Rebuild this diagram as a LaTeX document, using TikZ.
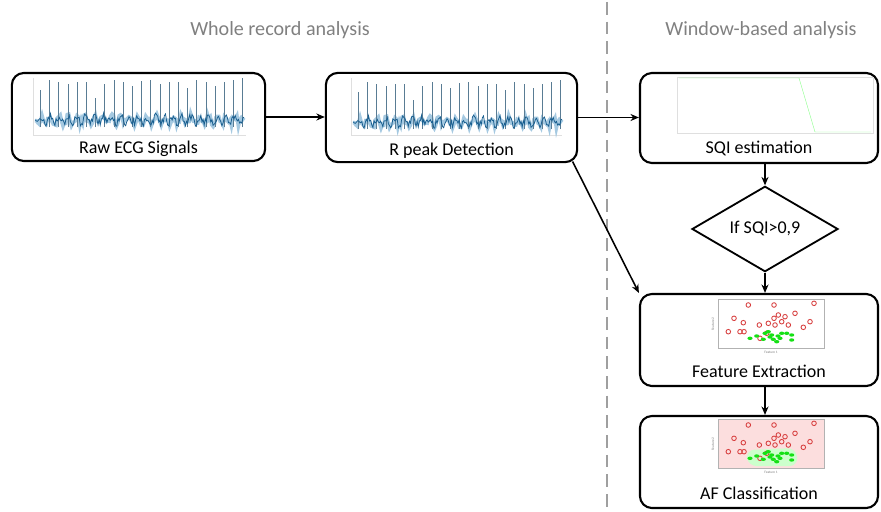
\documentclass[tikz,border=0pt]{standalone}
\usepackage{fontspec}
\setmainfont{Carlito}
\usetikzlibrary{shapes.geometric,arrows.meta,calc}
\definecolor{ecgblue}{RGB}{31,119,180}
\definecolor{ptred}{RGB}{215,60,60}
\definecolor{ptgreen}{RGB}{20,225,20}
\definecolor{afpink}{RGB}{252,222,222}
\tikzset{
  headtxt/.style={text=gray,font=\fontsize{14.3}{16}\selectfont},
  box/.style={draw,line width=1.5pt,rounded corners=8.5pt,minimum width=#1},
  boxcap/.style={font=\fontsize{12.8}{14}\selectfont},
  dia/.style={diamond,draw,line width=1.3pt,minimum width=3.65cm,minimum height=1.75cm,
    inner sep=0pt,font=\fontsize{12.8}{14}\selectfont},
  arr/.style={line width=1.1pt,-{Stealth[length=6pt,width=5pt]}},
  divider/.style={gray!75,line width=1.6pt,dash pattern=on 9pt off 5pt},
  plotframe/.style={draw=gray!25,line width=.3pt},
}
% ecg trace, x 35..243 px
\newcommand{\ecgtrace}{%
  \pgfmathsetmacro{\dummy}{0}
  \pgfmathsetseed{7}
  \draw[ecgblue!40,line width=2.6pt] plot[domain=35:244,samples=150] (\x,{120+3*sin(\x*41)+3.5*rand});
  \foreach \s/\t in {40/90,49/80,58/82,68/84,77/82,86/82,95/98,104/84,114/80,123/82,132/86,141/81,
    150/80,160/84,169/82,178/82,187/88,196/80,206/82,215/86,224/82,233/80,242/78}{
    \draw[ecgblue!40!gray,line width=.45pt] (\s,127)--(\s,\t);
  }
  \pgfmathsetseed{11}
  \draw[ecgblue!80!black,line width=.55pt] plot[domain=35:244,samples=190] (\x,{120+3*sin(\x*41)+4*rand});
}
% scatter points, relative to plot corner
\newcommand{\featpts}{%
  \foreach \px/\py in {30.3/6,56/6,96/4.3,16/19.3,25.3/23.7,41.3/26,50.3/24.3,56/19.3,60.3/16,67/17.7,
    63.7/22.7,57/26,70.3/26,77/14.3,92/22.7,85.3/28.3,10.3/32.7,22/32.7,26/32.7,42/39.3,48.7/34.3}{
    \draw[ptred,line width=.6pt] (\px,\py) circle (2.3);
  }
  \foreach \px/\py in {32/39.3,38.7/37,47/34.3,50.3/32.7,53.7/36,55.3/40.3,58.7/42.7,62/39.3,68.7/34.3,
    73.7/36,73.7/41,63.7/34.3,45.3/40.3,60/37,52/38}{
    \fill[ptgreen] (\px,\py) ellipse (2.6 and 1.7);
  }
  \node[font=\fontsize{2.5}{3}\selectfont,text=gray] (fx) at (53,53) {Feature 1};
  \node[font=\fontsize{2.5}{3}\selectfont,text=gray,rotate=90] (fy) at (-5,25) {Feature 2};
}

\begin{document}
\begin{tikzpicture}[x=0.025cm,y=-0.025cm]
  \useasboundingbox (0,0) rectangle (881,512);

  \node[headtxt] (whole) at (280,30) {Whole record analysis};
  \node[headtxt] (window) at (761,30) {Window-based analysis};
  \draw[divider] (607,2)--(607,512);

  % boxes
  \node[box=6.33cm,minimum height=2.2cm] (raw) at (138.5,117) {};
  \node[box=6.28cm,minimum height=2.23cm] (rpk) at (451.5,117.5) {};
  \node[box=5.95cm,minimum height=2.25cm] (sqi) at (759,118) {};
  \node[dia] (test) at (765,229) {If SQI>0,9};
  \node[box=5.95cm,minimum height=2.3cm] (feat) at (759,340) {};
  \node[box=5.95cm,minimum height=2.3cm] (afc) at (759,462) {};

  \node[boxcap] (rawcap) at ([yshift=.33cm]raw.south) {Raw ECG Signals};
  \node[boxcap] (rpkcap) at ([yshift=.31cm]rpk.south) {R peak Detection};
  \node[boxcap] (sqicap) at ([yshift=.38cm]sqi.south) {SQI estimation};
  \node[boxcap] (featcap) at ([yshift=.4cm]feat.south) {Feature Extraction};
  \node[boxcap] (afccap) at ([yshift=.4cm]afc.south) {AF Classification};

  % pictures in the boxes
  \begin{scope}
    \draw[gray!25,line width=.3pt] (33,78)--(33,135)--(246,135);
    \ecgtrace
  \end{scope}
  \begin{scope}[shift={(318,2)}]
    \draw[gray!25,line width=.3pt] (33,76)--(33,133)--(244,133);
    \ecgtrace
  \end{scope}
  \draw[plotframe] (677,77) rectangle (873,133);
  \draw[green!45,line width=.3pt] (679,78)--(799,78)--(815,132)--(871,132);
  \begin{scope}[shift={(718,299)}]
    \fill[white] (0,0) rectangle (106,49);
    \draw[gray!60,line width=.6pt] (0,0) rectangle (106,49);
    \featpts
  \end{scope}
  \begin{scope}[shift={(718,419)}]
    \fill[afpink] (0,0) rectangle (106,49);
    \fill[green!20,rounded corners=6pt] (28,31)--(78,29)--(80,47)--(30,47)--cycle;
    \draw[gray!60,line width=.6pt] (0,0) rectangle (106,49);
    \featpts
  \end{scope}

  % connectors
  \coordinate (rpkout) at ([xshift=-.14cm,yshift=.04cm]rpk.south east);
  \draw[arr] (raw.east)--(raw.east-|rpk.west);
  \draw[arr] (rpk.east)--(rpk.east-|sqi.west);
  \draw[arr] (sqi.south-|test.north)--(test.north);
  \draw[arr] (test.south)--(test.south|-feat.north);
  \draw[arr] (rpkout)--(feat.north west);
  \draw[arr] (feat.south-|test.south)--(test.south|-afc.north);
\end{tikzpicture}
\end{document}
